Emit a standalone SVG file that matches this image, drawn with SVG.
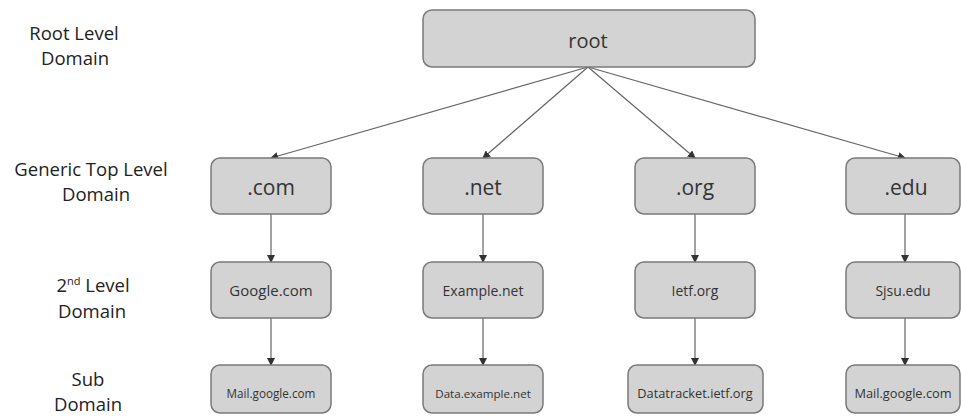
<svg xmlns="http://www.w3.org/2000/svg" width="961" height="417" viewBox="0 0 961 417">
<style>
.box{fill:#d3d3d3;stroke:#7a7a7a;stroke-width:1.5}
.t{font-family:"Open Sans","Liberation Sans",sans-serif;fill:#333;text-anchor:middle;dominant-baseline:central}
.lbl{font-family:"Open Sans","Liberation Sans",sans-serif;fill:#222;text-anchor:middle;font-size:18.5px}
.c{stroke:#666;stroke-width:1.2;fill:none;marker-end:url(#ah)}
</style>
<defs>
<marker id="ah" markerWidth="8" markerHeight="8" refX="7" refY="4" orient="auto" markerUnits="userSpaceOnUse">
<path d="M0,0 L8,4 L0,8 z" fill="#333"/>
</marker>
</defs>
<rect width="961" height="417" fill="#fff"/>
<g id="labels">
<text class="lbl" x="74" y="40">Root Level</text>
<text class="lbl" x="75" y="65">Domain</text>
<text class="lbl" x="91" y="176">Generic Top Level</text>
<text class="lbl" x="96" y="201">Domain</text>
<text class="lbl" x="93" y="292">2<tspan font-size="11" dy="-7">nd</tspan><tspan dy="7"> Level</tspan></text>
<text class="lbl" x="92" y="318">Domain</text>
<text class="lbl" x="88" y="386">Sub</text>
<text class="lbl" x="88" y="411">Domain</text>
</g>
<g id="connectors">
<line class="c" x1="588" y1="67" x2="271" y2="158"/>
<line class="c" x1="588" y1="67" x2="483" y2="158"/>
<line class="c" x1="588" y1="67" x2="695" y2="158"/>
<line class="c" x1="588" y1="67" x2="905" y2="158"/>
<line class="c" x1="271" y1="214" x2="271" y2="262"/>
<line class="c" x1="483" y1="214" x2="483" y2="262"/>
<line class="c" x1="695" y1="214" x2="695" y2="262"/>
<line class="c" x1="905" y1="214" x2="905" y2="262"/>
<line class="c" x1="271" y1="318" x2="271" y2="365"/>
<line class="c" x1="483" y1="318" x2="483" y2="365"/>
<line class="c" x1="695" y1="318" x2="695" y2="365"/>
<line class="c" x1="905" y1="318" x2="905" y2="365"/>
</g>
<g id="root"><rect class="box" x="423" y="10" width="332" height="57" rx="9"/><text class="t" x="588" y="40" font-size="20">root</text></g>
<g id="com"><rect class="box" x="211" y="158" width="120" height="56" rx="9"/><text class="t" x="271" y="187" font-size="21">.com</text></g>
<g id="net"><rect class="box" x="423" y="158" width="120" height="56" rx="9"/><text class="t" x="483" y="187" font-size="21">.net</text></g>
<g id="org"><rect class="box" x="635" y="158" width="120" height="56" rx="9"/><text class="t" x="695" y="187" font-size="21">.org</text></g>
<g id="edu"><rect class="box" x="846" y="158" width="114" height="56" rx="9"/><text class="t" x="906" y="187" font-size="21">.edu</text></g>
<g id="google"><rect class="box" x="211" y="262" width="120" height="56" rx="9"/><text class="t" x="271" y="290" font-size="15">Google.com</text></g>
<g id="example"><rect class="box" x="423" y="262" width="120" height="56" rx="9"/><text class="t" x="483" y="290" font-size="14">Example.net</text></g>
<g id="ietf"><rect class="box" x="635" y="262" width="120" height="56" rx="9"/><text class="t" x="695" y="290" font-size="14">Ietf.org</text></g>
<g id="sjsu"><rect class="box" x="846" y="262" width="114" height="56" rx="9"/><text class="t" x="903" y="290" font-size="14">Sjsu.edu</text></g>
<g id="mailgoogle"><rect class="box" x="211" y="365" width="120" height="48" rx="9"/><text class="t" x="271" y="393" font-size="11.7">Mail.google.com</text></g>
<g id="dataexample"><rect class="box" x="423" y="365" width="120" height="48" rx="9"/><text class="t" x="483" y="393" font-size="11.6">Data.example.net</text></g>
<g id="datatracker"><rect class="box" x="628" y="365" width="135" height="48" rx="9"/><text class="t" x="695" y="393" font-size="12.8">Datatracket.ietf.org</text></g>
<g id="mailgoogle2"><rect class="box" x="846" y="365" width="114" height="48" rx="9"/><text class="t" x="903" y="393" font-size="12.8">Mail.google.com</text></g>
</svg>
